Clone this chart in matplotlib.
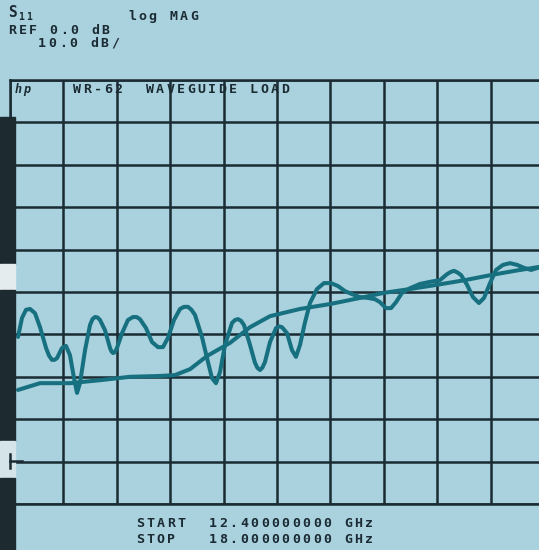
import numpy as np
import matplotlib
matplotlib.use("Agg")
from matplotlib import pyplot as plt
from matplotlib.patches import Rectangle

# S11 log MAG trace, WR-62 waveguide load
f_start, f_stop = 12.4, 18.0
ref_db, db_per_div = 0.0, 10.0

# smooth trace (averaged response)
smooth_f = [12.484, 12.715, 13.029, 13.344, 13.658, 13.973, 14.130, 14.288, 14.466,
            14.707, 14.917, 15.127, 15.441, 15.766, 16.070, 16.322, 16.595, 16.878,
            17.172, 17.444, 17.696, 18.000]
smooth_db = [-73.1, -71.5, -71.5, -70.8, -70.0, -69.8, -69.6, -68.2, -65.1,
             -62.0, -58.3, -55.7, -54.0, -52.8, -51.4, -50.2, -49.3, -48.3,
             -47.2, -46.0, -45.0, -43.9]

# rippled trace
ripple_f = [12.484, 12.526, 12.568, 12.610, 12.662, 12.715, 12.778, 12.809, 12.840, 12.867,
            12.893, 12.945, 12.987, 13.029, 13.071, 13.103, 13.134, 13.187, 13.239, 13.265,
            13.291, 13.318, 13.344, 13.396, 13.449, 13.464, 13.480, 13.501, 13.522, 13.575,
            13.637, 13.690, 13.727, 13.763, 13.826, 13.889, 13.952, 14.004, 14.057, 14.120,
            14.183, 14.225, 14.267, 14.303, 14.340, 14.413, 14.476, 14.518, 14.560, 14.602,
            14.655, 14.728, 14.760, 14.791, 14.823, 14.854, 14.917, 14.969, 14.995, 15.022,
            15.048, 15.074, 15.127, 15.190, 15.221, 15.252, 15.305, 15.357, 15.399, 15.441,
            15.494, 15.546, 15.619, 15.693, 15.766, 15.840, 15.913, 15.987, 16.070, 16.154,
            16.228, 16.280, 16.343, 16.396, 16.448, 16.511, 16.595, 16.700, 16.805, 16.909,
            16.983, 17.020, 17.056, 17.093, 17.130, 17.193, 17.255, 17.318, 17.371, 17.434,
            17.497, 17.570, 17.644, 17.717, 17.790, 17.864, 17.937, 18.000]
ripple_db = [-60.6, -56.1, -54.2, -54.0, -55.0, -58.3, -63.2, -65.0, -66.0, -66.0,
             -65.6, -63.2, -62.7, -64.9, -70.3, -73.8, -71.5, -63.7, -57.8, -56.4,
             -55.9, -56.0, -56.6, -59.0, -63.2, -64.0, -64.4, -64.2, -63.2, -59.7,
             -56.6, -55.9, -55.9, -56.4, -58.5, -61.8, -63.0, -63.0, -60.8, -56.6,
             -54.0, -53.5, -53.5, -54.2, -55.4, -60.6, -66.5, -70.3, -71.5, -68.9,
             -62.5, -57.3, -56.6, -56.4, -56.8, -57.8, -62.5, -66.7, -67.9, -68.4,
             -67.8, -66.5, -61.8, -58.5, -58.1, -58.3, -59.7, -63.7, -65.3, -62.5,
             -57.1, -52.6, -49.3, -47.9, -47.9, -48.6, -49.8, -50.5, -51.2, -51.4,
             -51.7, -52.4, -53.8, -53.8, -52.4, -50.2, -49.1, -48.1, -47.6, -47.2,
             -45.8, -45.3, -45.0, -45.4, -46.0, -48.3, -51.2, -52.6, -51.4, -47.9,
             -44.8, -43.6, -43.2, -43.6, -44.3, -44.8, -44.3, -43.9]

bg = "#a9d1de"
ink = "#1b2b33"
trace = "#17707f"

W, H = 539, 550
fig = plt.figure(figsize=(W / 100, H / 100), dpi=100, facecolor=bg)

# graticule: 10 x 10 divisions
ax = fig.add_axes([10 / W, (H - 504) / H, 534 / W, 424 / H])
ax.set_facecolor(bg)
ax.set_xlim(f_start, f_stop)
ax.set_ylim(ref_db - 10 * db_per_div, ref_db)
ax.set_xticks(np.linspace(f_start, f_stop, 11))
ax.set_yticks(np.linspace(ref_db - 10 * db_per_div, ref_db, 11))
ax.grid(True, color=ink, lw=1.8)
ax.tick_params(length=0, labelbottom=False, labelleft=False)
for s in ax.spines.values():
    s.set_color(ink)
    s.set_linewidth(1.8)

ax.plot(smooth_f, smooth_db, color=trace, lw=2.9, solid_capstyle="round", zorder=3)
ax.plot(ripple_f, ripple_db, color=trace, lw=2.9, solid_joinstyle="round",
        solid_capstyle="round", zorder=3)

mono = dict(family="DejaVu Sans Mono", weight="bold", color=ink, fontsize=9.5)
pitch = 10.4  # the screen font is wide: fixed character cell in pixels

def put(x, y, s, step=pitch, **kw):
    # y is the baseline, in pixels from the top
    opts = dict(mono)
    opts.update(kw)
    for i, ch in enumerate(s):
        if ch != " ":
            fig.text((x + i * step) / W, 1 - y / H, ch, va="baseline", ha="left", **opts)

put(8, 17, "S", fontsize=10.5)
put(18, 19.5, "11", step=8, fontsize=7)
put(128, 20, "log MAG")
put(8, 33.5, "REF 0.0 dB")
put(38, 47, "10.0 dB/")
put(15, 93, "hp", step=8, style="italic", fontsize=8.5)
put(73, 93, "WR-62  WAVEGUIDE LOAD")
put(136, 527, "START  12.400000000 GHz")
put(136, 543, "STOP   18.000000000 GHz")

# left edge of the photo: screen bezel and reference marker
for y0, y1, c in [(117, 264, "#1d2a2f"), (264, 290, "#e4ecee"), (290, 441, "#1d2a2f"),
                  (441, 478, "#d5e4e8"), (478, 550, "#1d2a2f")]:
    fig.add_artist(Rectangle((0, 1 - y1 / H), 15 / W, (y1 - y0) / H,
                             transform=fig.transFigure, color=c, zorder=5))
fig.add_artist(plt.Line2D([10 / W, 10 / W], [1 - 454 / H, 1 - 468 / H],
                          transform=fig.transFigure, color=ink, lw=1.8, zorder=6))
fig.add_artist(plt.Line2D([10 / W, 22 / W], [1 - 461 / H, 1 - 461 / H],
                          transform=fig.transFigure, color=ink, lw=1.8, zorder=6))

fig.savefig("out.png", dpi=100, facecolor=bg)
plt.close(fig)
